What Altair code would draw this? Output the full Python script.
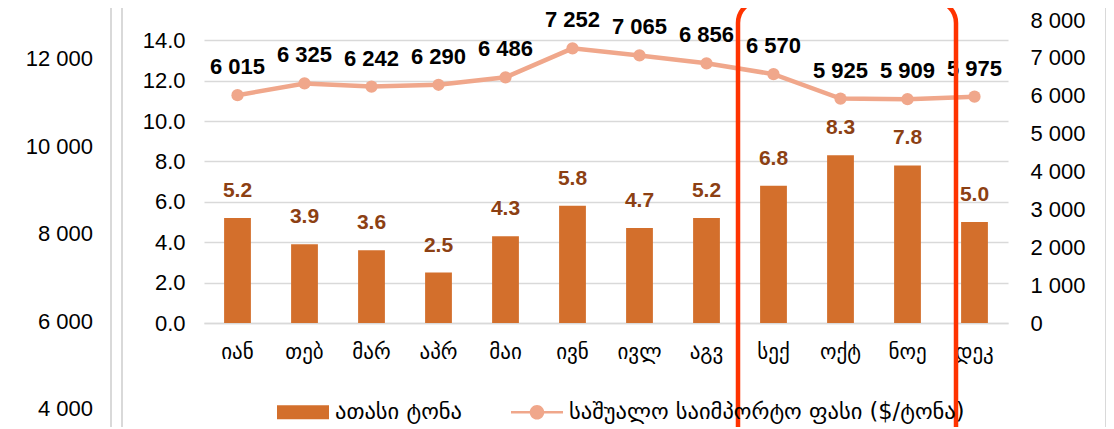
import altair as alt
import pandas as pd

months = ["იან", "თებ", "მარ", "აპრ", "მაი", "ივნ", "ივლ", "აგვ", "სექ", "ოქტ", "ნოე", "დეკ"]
tonnes = [5.2, 3.9, 3.6, 2.5, 4.3, 5.8, 4.7, 5.2, 6.8, 8.3, 7.8, 5.0]
price = [6015, 6325, 6242, 6290, 6486, 7252, 7065, 6856, 6570, 5925, 5909, 5975]
left_ticks = [0, 2, 4, 6, 8, 10, 12, 14]
right_ticks = [0, 1000, 2000, 3000, 4000, 5000, 6000, 7000, 8000]
outer_ticks = [12000, 10000, 8000, 6000, 4000]
series_names = ["ათასი ტონა", "საშუალო საიმპორტო ფასი ($/ტონა)"]

BAR = "#D36F2C"
LINE = "#F0A78B"
BROWN = "#8C4013"
FONT = "Liberation Sans"
GEO_FONT = "DejaVu Sans"

df = pd.DataFrame({"month": months, "tonnes": tonnes, "price": price})
df["tlabel"] = [f"{v:.1f}" for v in tonnes]
df["plabel"] = [f"{v:,}".replace(",", " ") for v in price]

xenc = alt.X(
    "month:N",
    sort=months,
    scale=alt.Scale(paddingInner=0.6, paddingOuter=0.3),
    axis=alt.Axis(
        title=None, labelAngle=0, ticks=False, tickSize=0, domain=True,
        domainColor="#D9D9D9", domainWidth=1.5, labelFont=GEO_FONT,
        labelFontSize=21, labelColor="#000000", labelPadding=18,
    ),
)

ybar = alt.Y(
    "tonnes:Q",
    scale=alt.Scale(domain=[0, 15], nice=False, zero=True),
    axis=alt.Axis(
        values=left_ticks, format=".1f", title=None, grid=True,
        gridColor="#D9D9D9", gridWidth=1.5, domain=False, ticks=False,
        tickSize=0, labelFont=FONT, labelFontSize=22, labelColor="#000000",
        labelPadding=19,
    ),
)

base = alt.Chart(df)
bars = base.mark_bar(color=BAR).encode(x=xenc, y=ybar)
bar_text = base.mark_text(
    font=FONT, fontSize=21, fontWeight="bold", color=BROWN, dy=-21,
    baseline="alphabetic",
).encode(x=xenc, y=ybar, text="tlabel:N")
left_group = alt.layer(bars, bar_text)

yline = alt.Y(
    "price:Q",
    scale=alt.Scale(domain=[0, 8000], nice=False, zero=True),
    axis=alt.Axis(
        orient="right", values=right_ticks, title=None, grid=False,
        domain=False, ticks=False, tickSize=0, labelFont=FONT,
        labelFontSize=22, labelColor="#000000", labelPadding=22,
        labelExpr="replace(format(datum.value, ','), ',', ' ')",
    ),
)
line = base.mark_line(color=LINE, strokeWidth=4.5).encode(x=xenc, y=yline)
pts = base.mark_point(filled=True, color=LINE, size=150, opacity=1).encode(x=xenc, y=yline)
line_text = base.mark_text(
    font=FONT, fontSize=22, fontWeight="bold", color="#000000", dy=-21,
    baseline="alphabetic",
).encode(x=xenc, y=yline, text="plabel:N")
right_group = alt.layer(line, pts, line_text)

# legend (drawn by the library from a hidden layer)
leg_df = pd.DataFrame({"series": series_names})
rect_path = "M-1,-0.27H1V0.27H-1Z"
line_path = ("M-1,-0.05H-0.2V0.05H-1Z M0.2,-0.05H1V0.05H0.2Z "
             "M-0.28,0A0.28,0.28,0,1,1,0.28,0A0.28,0.28,0,1,1,-0.28,0Z")
leg_kw = dict(
    title=None, orient="none", direction="horizontal",
    legendX=73, legendY=366, symbolSize=2704, symbolOpacity=1,
    symbolStrokeWidth=0, labelFont=GEO_FONT, labelFontSize=22.5,
    labelColor="#000000", labelLimit=700, labelOffset=6,
    columnPadding=48, padding=0,
)
legend_layer = alt.Chart(leg_df).mark_point(filled=True, opacity=0).encode(
    color=alt.Color(
        "series:N",
        scale=alt.Scale(domain=series_names, range=[BAR, LINE]),
        legend=alt.Legend(**leg_kw),
    ),
    shape=alt.Shape(
        "series:N",
        scale=alt.Scale(domain=series_names, range=[rect_path, line_path]),
        legend=alt.Legend(**leg_kw),
    ),
)

# cropped axis of the neighbouring chart on the left
outer_df = pd.DataFrame({"v": outer_ticks})
outer_df["lab"] = [f"{v:,}".replace(",", " ") for v in outer_ticks]
outer = alt.Chart(outer_df).mark_text(
    font=FONT, fontSize=22, color="#000000", align="right", baseline="middle",
).encode(
    x=alt.value(-111),
    y=alt.Y("v:Q", scale=alt.Scale(domain=[5975, 12901], nice=False, zero=False), axis=None),
    text="lab:N",
)

one = alt.Data(values=[{"a": 1}])
vlines = alt.layer(
    alt.Chart(one).mark_rule(color="#D9D9D9", strokeWidth=2).encode(
        x=alt.value(-93), y=alt.value(-12), y2=alt.value(410)),
    alt.Chart(one).mark_rule(color="#D9D9D9", strokeWidth=2).encode(
        x=alt.value(-82), y=alt.value(-12), y2=alt.value(410)),
    alt.Chart(one).mark_rule(color="#D9D9D9", strokeWidth=2).encode(
        x=alt.value(902), y=alt.value(-12), y2=alt.value(410)),
)

highlight = alt.Chart(one).mark_rect(
    fill="transparent", stroke="#FF3300", strokeWidth=4.5, cornerRadius=22,
).encode(x=alt.value(534), x2=alt.value(752), y=alt.value(-19), y2=alt.value(440))

chart = alt.layer(
    left_group, right_group, outer, legend_layer, vlines, highlight
).resolve_scale(y="independent").properties(
    width=804, height=303,
    autosize=alt.AutoSizeParams(type="none"),
    padding={"left": 196, "top": 12, "right": 98, "bottom": 104},
).configure_view(stroke=None)

chart.save("out.html", embed_options={"renderer": "svg", "actions": False})
